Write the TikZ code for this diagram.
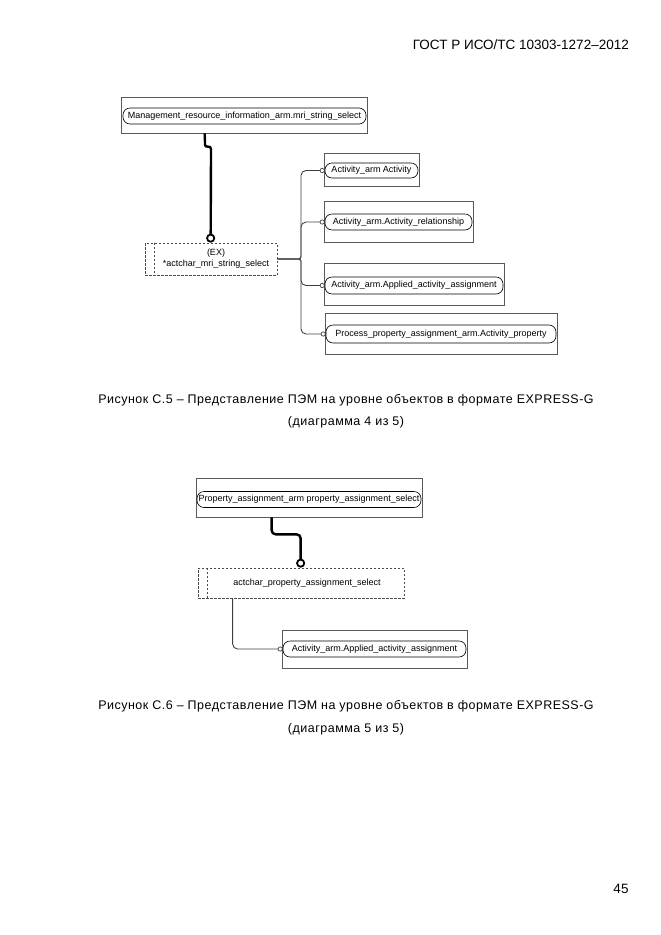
\documentclass[tikz,border=0pt]{standalone}
\usepackage{fontspec}
\setmainfont{Liberation Sans}
\newfontfamily\capfont[LetterSpace=4]{Liberation Sans}
\usetikzlibrary{arrows.meta}
\begin{document}
\begin{tikzpicture}[x=1pt,y=-1pt,
  entbox/.style={draw=black!65, line width=0.7pt, inner sep=0pt},
  pill/.style={draw=black, line width=0.6pt, rounded corners=7pt, inner sep=0pt, font=\fontsize{9}{10}\selectfont},
  selbox/.style={draw=black!70, dashed, dash pattern=on 2.5pt off 1.5pt, line width=0.7pt, inner sep=0pt},
  conn/.style={draw=black!75, line width=0.9pt, rounded corners=5pt},
  ctip/.style={-{Circle[open,length=5pt,width=5pt,line width=0.7pt]}},
  thickconn/.style={draw=black, line width=2.4pt, rounded corners=4pt, -{Circle[open,length=9pt,width=9pt,line width=1.8pt]}},
  txt/.style={inner sep=0pt, font=\fontsize{9}{11}\selectfont, align=center},
  captxt/.style={inner sep=0pt, font=\capfont\fontsize{12.5}{15}\selectfont},
  hdr/.style={inner sep=0pt, font=\fontsize{13.5}{16}\selectfont}
]
\useasboundingbox (0,0) rectangle (661,935);

% header and page number
\node[hdr, anchor=east] (hdr) at (629,45) {ГОСТ Р ИСО/ТС 10303-1272–2012};
\node[hdr] (pg) at (621,889) {45};

% ---------------- Diagram 1 ----------------
\node[entbox, minimum width=246pt, minimum height=36pt] (A) at (244,115) {};
\node[pill, minimum width=243pt, minimum height=16pt] (pA) at (244.5,116) {Management\_resource\_information\_arm.mri\_string\_select};

\node[selbox, minimum width=132pt, minimum height=32pt] (S1) at (211,259) {};
\draw[selbox] ([xshift=10pt]S1.north west) -- ([xshift=10pt]S1.south west);
\node[txt] (S1t) at (216,258.5) {(EX)\\*actchar\_mri\_string\_select};

\node[entbox, minimum width=95pt, minimum height=33pt] (B1) at (371.5,169.5) {};
\node[pill, minimum width=93pt, minimum height=15pt] (p1) at (371.5,170.5) {Activity\_arm Activity};

\node[entbox, minimum width=149pt, minimum height=41pt] (B2) at (398.5,221.5) {};
\node[pill, minimum width=147pt, minimum height=16pt] (p2) at (398.5,222) {Activity\_arm.Activity\_relationship};

\node[entbox, minimum width=180pt, minimum height=42pt] (B3) at (414,284) {};
\node[pill, minimum width=178pt, minimum height=17pt] (p3) at (414,285.5) {Activity\_arm.Applied\_activity\_assignment};

\node[entbox, minimum width=232pt, minimum height=41pt] (B4) at (441,333.5) {};
\node[pill, minimum width=230pt, minimum height=18pt] (p4) at (441,334) {Process\_property\_assignment\_arm.Activity\_property};

\draw[thickconn] ([xshift=84pt]A.south west) -- (205,141) .. controls (205,148) and (211,145) .. (211,153) -- ([xshift=66pt]S1.north west);

\draw[conn, ctip] (S1.east) -- (295,259) .. controls (299,259) and (301,257) .. (301,252) |- (p1.west);
\draw[conn, ctip] (S1.east) -- (295,259) .. controls (299,259) and (301,257) .. (301,252) |- (p2.west);
\draw[conn, ctip] (S1.east) -- (295,259) .. controls (299,259) and (301,261) .. (301,266) |- (p3.west);
\draw[conn, ctip] (S1.east) -- (295,259) .. controls (299,259) and (301,261) .. (301,266) |- (p4.west);

\node[captxt] (c1a) at (346,400) {Рисунок  С.5 – Представление ПЭМ на уровне объектов в формате EXPRESS-G};
\node[captxt] (c1b) at (346,422) {(диаграмма 4 из 5)};

% ---------------- Diagram 2 ----------------
\node[entbox, minimum width=226pt, minimum height=39pt] (C) at (309,497.5) {};
\node[pill, minimum width=224pt, minimum height=16pt] (pC) at (309,499.5) {Property\_assignment\_arm property\_assignment\_select};

\node[selbox, minimum width=206pt, minimum height=30pt] (S2) at (301,583) {};
\draw[selbox] ([xshift=10pt]S2.north west) -- ([xshift=10pt]S2.south west);
\node[txt] (S2t) at (307,583) {actchar\_property\_assignment\_select};

\node[entbox, minimum width=185pt, minimum height=38pt] (D) at (374.5,649) {};
\node[pill, minimum width=183pt, minimum height=16pt] (pD) at (374.5,649) {Activity\_arm.Applied\_activity\_assignment};

\draw[thickconn] ([xshift=76pt]C.south west) -- ++(0,17) -- ++(29,0) -- ([xshift=103pt]S2.north west);
\draw[conn, ctip] ([xshift=35pt]S2.south west) |- (pD.west);

\node[captxt] (c2a) at (346,706) {Рисунок  С.6 – Представление ПЭМ на уровне объектов в формате EXPRESS-G};
\node[captxt] (c2b) at (346,729) {(диаграмма 5 из 5)};
\end{tikzpicture}
\end{document}
